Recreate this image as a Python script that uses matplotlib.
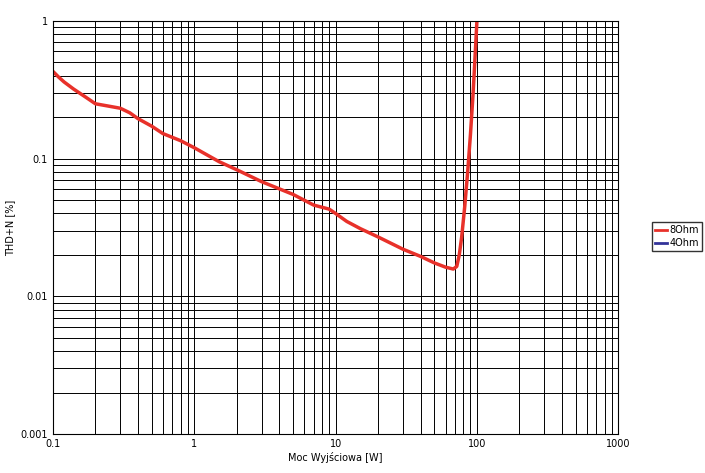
import matplotlib
matplotlib.use("Agg")
import matplotlib.pyplot as plt
from matplotlib.lines import Line2D

power = [0.1, 0.11, 0.12, 0.14, 0.17, 0.2, 0.25, 0.3, 0.35, 0.4, 0.5, 0.6, 0.8, 1, 1.2, 1.5, 2, 3, 5, 7, 9, 10, 12, 15, 20, 30, 40, 50, 60, 68, 72, 75, 78, 82, 86, 90, 94, 97, 100]
thd = [0.43, 0.39, 0.36, 0.32, 0.28, 0.25, 0.24, 0.232, 0.215, 0.195, 0.172, 0.152, 0.135, 0.12, 0.108, 0.095, 0.083, 0.068, 0.055, 0.046, 0.043, 0.04, 0.035, 0.031, 0.027, 0.022, 0.0195, 0.0175, 0.0163, 0.0158, 0.0165, 0.02, 0.027, 0.045, 0.08, 0.15, 0.3, 0.55, 1.0]

fig = plt.figure(figsize=(7.05, 4.73), dpi=100)
ax = fig.add_axes([0.075, 0.082, 0.802, 0.874])
ax.plot(power, thd, color="#e8312a", lw=2.5)
ax.set_xscale("log"); ax.set_yscale("log")
ax.set_xlim(0.1, 1000); ax.set_ylim(0.001, 1)
ax.grid(True, which="both", color="black", lw=0.7)
ax.set_xticks([0.1, 1, 10, 100, 1000]); ax.set_xticklabels(["0.1", "1", "10", "100", "1000"])
ax.set_yticks([0.001, 0.01, 0.1, 1]); ax.set_yticklabels(["0.001", "0.01", "0.1", "1"])
ax.tick_params(labelsize=7, which="both", length=0)
ax.set_xlabel("Moc Wyjściowa [W]", fontsize=7, labelpad=2)
ax.set_ylabel("THD+N [%]", fontsize=7)
handles = [Line2D([], [], color="#e8312a", lw=2), Line2D([], [], color="#333399", lw=2)]
fig.legend(handles, ["8Ohm", "4Ohm"], loc="center left", bbox_to_anchor=(0.918, 0.5),
           fontsize=7, frameon=True, fancybox=False, edgecolor="black",
           handlelength=1.2, handletextpad=0.3, borderpad=0.3, labelspacing=0.3)
fig.savefig("out.png")
